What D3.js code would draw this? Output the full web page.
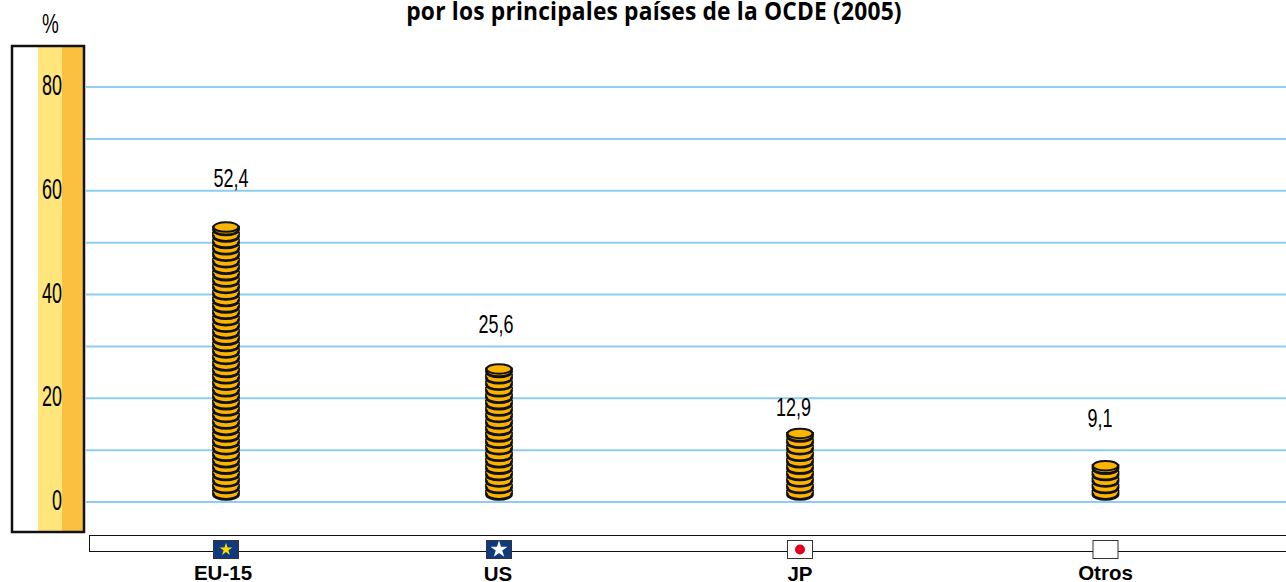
<!DOCTYPE html>
<html>
  <head>
    <meta charset="UTF-8">
    <title>por los principales países de la OCDE (2005)</title>
    <script src="https://cdnjs.cloudflare.com/ajax/libs/d3/7.8.5/d3.min.js"></script>
    <style>
      body { margin: 0; padding: 0; background: #fff; overflow: hidden; }
      svg { display: block; }
      text { fill: #000; font-family: "Liberation Sans", sans-serif; }
    </style>
  </head>
  <body>
    <svg id="chart" width="1286" height="582"></svg>
    <script>
      const categories = ['EU-15', 'US', 'JP', 'Otros'];
      const valueLabels = ['52,4', '25,6', '12,9', '9,1'];
      const coinCounts = [42, 20, 10, 5];
      const axisTicks = [0, 20, 40, 60, 80];
      const gridLines = [0, 10, 20, 30, 40, 50, 60, 70, 80];
      const titleText = 'por los principales países de la OCDE (2005)';

      const svg = d3.select('#chart');
      const y = d3.scaleLinear().domain([0, 80]).range([502, 87]);
      const x = d3.scaleOrdinal().domain(categories).range([226, 499, 800, 1105.5]);
      const labelX = d3.scaleOrdinal().domain(categories).range([231, 496, 793.5, 1100]);
      const labelY = d3.scaleOrdinal().domain(categories).range([187, 333, 416, 427]);
      const catX = d3.scaleOrdinal().domain(categories).range([223, 498, 800, 1105.5]);
      const catY = d3.scaleOrdinal().domain(categories).range([580, 581, 581, 580]);

      // title, cut off by the top edge in the original too
      svg.append('text')
        .attr('transform', 'translate(654,20) scale(0.93,1)')
        .attr('text-anchor', 'middle')
        .style('font-family', '"Open Sans", sans-serif')
        .style('font-weight', 700).style('font-size', '24.5px')
        .style('letter-spacing', '0.2px')
        .text(titleText);

      // left panel
      svg.append('rect').attr('x', 38).attr('y', 46).attr('width', 24).attr('height', 486).attr('fill', '#fee67c');
      svg.append('rect').attr('x', 62).attr('y', 46).attr('width', 22).attr('height', 486).attr('fill', '#fcc040');
      svg.append('rect').attr('x', 12).attr('y', 46).attr('width', 72).attr('height', 486)
        .attr('fill', 'none').attr('stroke', '#111').attr('stroke-width', 2.5);

      svg.append('text')
        .attr('transform', 'translate(50.5,33) scale(0.7,1)')
        .attr('text-anchor', 'middle').style('font-size', '27px').text('%');

      svg.selectAll('.tick-label').data(axisTicks).enter().append('text')
        .attr('class', 'tick-label')
        .attr('transform', d => `translate(62,${y(d) + 8}) scale(0.6,1)`)
        .attr('text-anchor', 'end').style('font-size', '30px').text(d => d);

      // grid
      svg.selectAll('.grid').data(gridLines).enter().append('line')
        .attr('class', 'grid')
        .attr('x1', 86).attr('x2', 1286)
        .attr('y1', d => y(d)).attr('y2', d => y(d))
        .attr('stroke', '#8fcdf0').attr('stroke-width', 2);

      // coin stacks, bottom coin first
      const coinStep = 6.45;
      const rx = 12.5, ry = 4.8;
      const stack = svg.selectAll('.stack').data(categories).enter().append('g')
        .attr('class', 'stack')
        .attr('transform', d => `translate(${x(d)},0)`);
      stack.each(function(d, i) {
        const g = d3.select(this);
        d3.range(coinCounts[i]).forEach(k => {
          const cy = 491.5 - k * coinStep;
          g.append('path')
            .attr('d', `M${-rx},${cy}V${cy + 3}A${rx},${ry} 0 0 0 ${rx},${cy + 3}V${cy}Z`)
            .attr('fill', '#fbb400').attr('stroke', '#111').attr('stroke-width', 2.8);
          g.append('ellipse').attr('cy', cy).attr('rx', rx).attr('ry', ry)
            .attr('fill', '#fbb400')
            .attr('stroke', k === coinCounts[i] - 1 ? '#111' : 'none').attr('stroke-width', 2);
        });
      });

      // value labels
      svg.selectAll('.value').data(categories).enter().append('text')
        .attr('class', 'value')
        .attr('transform', d => `translate(${labelX(d)},${labelY(d)}) scale(0.72,1)`)
        .attr('text-anchor', 'middle').style('font-size', '25px')
        .text((d, i) => valueLabels[i]);

      // bottom band with flags
      svg.append('rect').attr('x', 89.5).attr('y', 535.5).attr('width', 1200).attr('height', 16)
        .attr('fill', '#fff').attr('stroke', '#111').attr('stroke-width', 1);

      const star = d3.symbol().type(d3.symbolStar);
      const flags = svg.selectAll('.flag').data(categories).enter().append('g')
        .attr('class', 'flag')
        .attr('transform', d => `translate(${x(d)},549.5)`);
      flags.append('rect').attr('x', -12.5).attr('y', -9).attr('width', 25).attr('height', 18)
        .attr('fill', d => (d === 'EU-15' || d === 'US') ? '#0f3a80' : '#fff')
        .attr('stroke', '#333').attr('stroke-width', 1);
      flags.filter(d => d === 'EU-15').append('path').attr('d', star.size(50)).attr('fill', '#ffdd00');
      flags.filter(d => d === 'US').append('path').attr('d', star.size(90)).attr('fill', '#fff');
      flags.filter(d => d === 'JP').append('circle').attr('r', 5).attr('fill', '#e2001a');

      svg.selectAll('.cat').data(categories).enter().append('text')
        .attr('class', 'cat')
        .attr('x', d => catX(d))
        .attr('y', d => catY(d))
        .attr('text-anchor', 'middle')
        .style('font-weight', 700).style('font-size', '20.5px')
        .text(d => d);
    </script>
  </body>
</html>
